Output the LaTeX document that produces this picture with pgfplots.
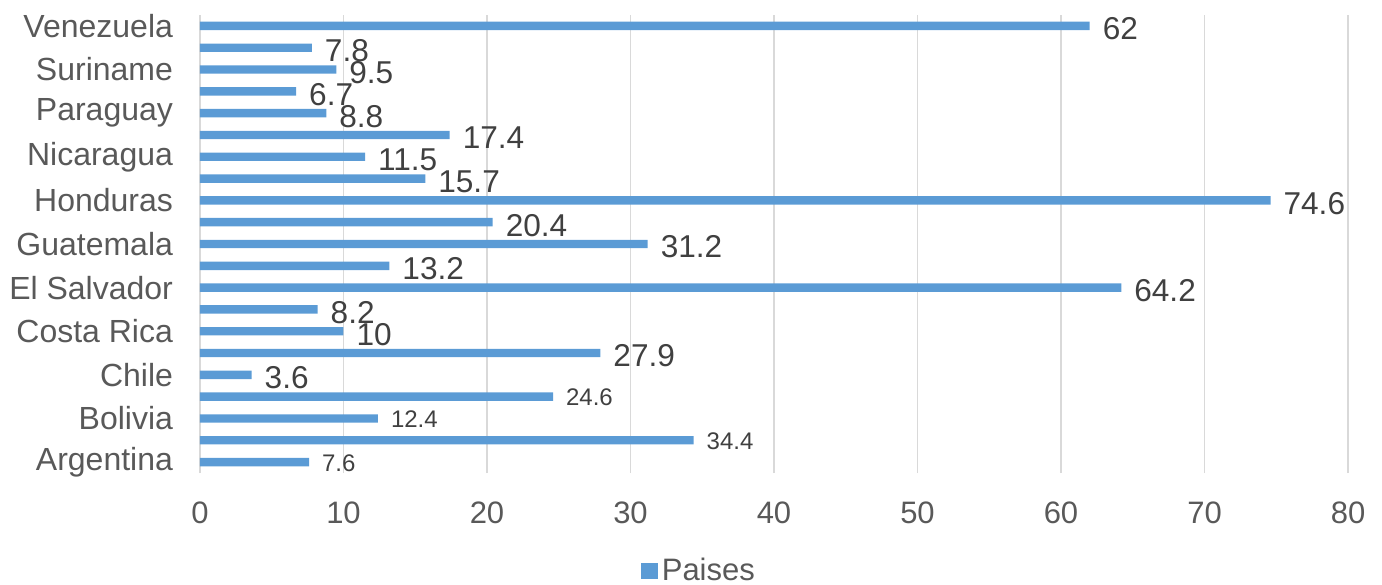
\documentclass[border=0pt]{standalone}
\usepackage{fontspec}
\setmainfont{Liberation Sans}
\usepackage{pgfplots}
\pgfplotsset{compat=1.18}
\definecolor{barblue}{HTML}{5B9BD5}
\definecolor{gridgray}{HTML}{D9D9D9}
\definecolor{ticktext}{HTML}{595959}
\definecolor{labtext}{HTML}{404040}
\begin{document}
\begin{tikzpicture}
\useasboundingbox (-100pt,-55.5pt) rectangle (591pt,236.5pt);
\begin{axis}[
  scale only axis,
  width=574pt, height=229pt,
  xbar, bar width=4.2pt, bar shift=0pt,
  xmin=0, xmax=80, ymin=-0.5, ymax=20.5,
  xtick={0,10,...,80},
  ytick={0,...,20},
  yticklabels={Argentina,,Bolivia,,Chile,,Costa Rica,,El Salvador,,Guatemala,,Honduras,,Nicaragua,,Paraguay,,Suriname,,Venezuela},
  xmajorgrids, major grid style={gridgray, line width=0.8pt},
  axis line style={draw=none},
  major tick length=0pt,
  /pgf/number format/assume math mode=true,
  tick label style={font=\fontsize{15.5}{18}\selectfont, text=ticktext},
  xticklabel style={yshift=-11pt},
  yticklabel style={xshift=-10pt, font=\fontsize{16}{18}\selectfont},
  nodes near coords,
  nodes near coords align={horizontal},
  every node near coord/.append style={text=labtext, font=\fontsize{15.8}{18}\selectfont, xshift=3pt, yshift=-1.5pt},
  legend style={at={(0.4355,-0.214)}, anchor=center, draw=none, fill=none,
    font=\fontsize{15.5}{18}\selectfont, text=ticktext},
  legend image code/.code={\fill[barblue] (0pt,-4.2pt) rectangle (8.4pt,4.2pt);},
]
\addplot[fill=barblue, draw=none, every node near coord/.append style={font=\fontsize{12}{14}\selectfont, yshift=1pt}] coordinates {
(7.6,0) (34.4,1) (12.4,2) (24.6,3)
};
\addlegendentry{Paises}
\addplot[fill=barblue, draw=none, forget plot] coordinates {
(3.6,4) (27.9,5) (10,6) (8.2,7) (64.2,8) (13.2,9) (31.2,10) (20.4,11) (74.6,12) (15.7,13) (11.5,14) (17.4,15) (8.8,16) (6.7,17) (9.5,18) (7.8,19) (62,20)
};
\end{axis}
\end{tikzpicture}
\end{document}
